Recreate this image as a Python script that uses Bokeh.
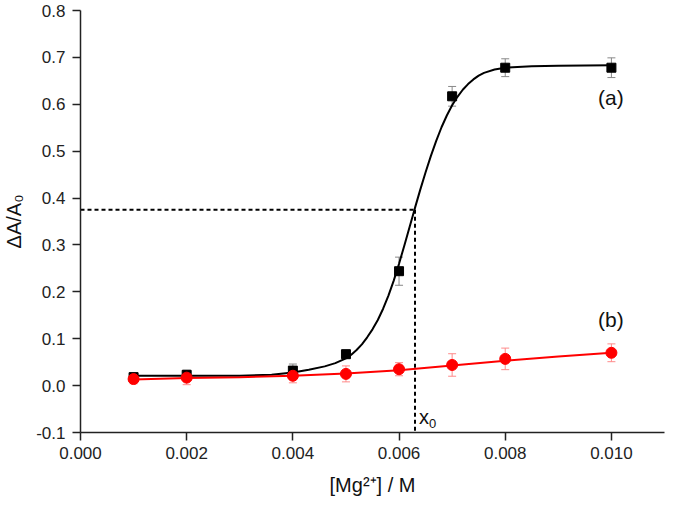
from bokeh.plotting import figure
from bokeh.models import ColumnDataSource, Whisker, TeeHead, FixedTicker, NumeralTickFormatter, Range1d
from bokeh.embed import file_html
from bokeh.resources import INLINE
from bokeh.core.properties import value

# ---- data ----
conc = [0.001, 0.002, 0.004, 0.005, 0.006, 0.007, 0.008, 0.010]
a_vals = [0.018, 0.023, 0.032, 0.067, 0.244, 0.617, 0.678, 0.678]
a_err = [0.010, 0.010, 0.014, 0.009, 0.030, 0.021, 0.019, 0.021]
b_vals = [0.014, 0.017, 0.021, 0.025, 0.035, 0.044, 0.057, 0.070]
b_err = [0.010, 0.015, 0.015, 0.017, 0.014, 0.024, 0.023, 0.019]

fit_a_x = [0.0010, 0.0020, 0.0030, 0.0036, 0.0040, 0.0043, 0.0046, 0.0048,
           0.0050, 0.0051, 0.0052, 0.0053, 0.0054, 0.0055, 0.0056, 0.0057,
           0.0058, 0.0059, 0.0060, 0.0061, 0.0062, 0.0063, 0.0064, 0.0065,
           0.0066, 0.0067, 0.0068, 0.0069, 0.0070, 0.0071, 0.0072, 0.0073,
           0.0074, 0.0075, 0.0076, 0.0078, 0.0080, 0.0085, 0.0090, 0.0100]
fit_a_y = [0.021, 0.021, 0.021, 0.023, 0.028, 0.034, 0.041, 0.048,
           0.058, 0.066, 0.076, 0.088, 0.103, 0.120, 0.140, 0.164,
           0.192, 0.224, 0.260, 0.299, 0.339, 0.379, 0.418, 0.455,
           0.490, 0.522, 0.551, 0.576, 0.598, 0.616, 0.631, 0.643,
           0.653, 0.661, 0.667, 0.674, 0.678, 0.681, 0.682, 0.683]
fit_b_x = [0.001, 0.002, 0.003, 0.004, 0.005, 0.006, 0.007, 0.008, 0.009, 0.010]
fit_b_y = [0.013, 0.016, 0.018, 0.021, 0.026, 0.033, 0.043, 0.053, 0.062, 0.070]

x0 = 0.0063
y_at_x0 = 0.375

x_ticks = [0.000, 0.002, 0.004, 0.006, 0.008, 0.010]
y_ticks = [-0.1, 0.0, 0.1, 0.2, 0.3, 0.4, 0.5, 0.6, 0.7, 0.8]

FONT = "Liberation Sans"

p = figure(width=665, height=503, output_backend="svg", toolbar_location=None,
           x_range=Range1d(0, 0.011), y_range=Range1d(-0.1, 0.8),
           min_border_left=78, min_border_right=1, min_border_top=10, min_border_bottom=71)
p.outline_line_color = None
p.xgrid.visible = False
p.ygrid.visible = False
p.background_fill_color = "white"
p.border_fill_color = "white"

for ax in (p.xaxis[0], p.yaxis[0]):
    ax.axis_line_width = 1.5
    ax.axis_line_color = "#222222"
    ax.major_tick_line_width = 1.5
    ax.major_tick_line_color = "#222222"
    ax.major_tick_out = 8
    ax.major_tick_in = 0
    ax.minor_tick_line_color = None
    ax.major_label_text_font = FONT
    ax.major_label_text_font_size = "17px"
    ax.major_label_text_color = "#222222"
    ax.axis_label_text_font = FONT
    ax.axis_label_text_font_size = "20px"
    ax.axis_label_text_font_style = "normal"
    ax.axis_label_text_color = "#111111"

p.xaxis[0].ticker = FixedTicker(ticks=x_ticks)
p.xaxis[0].formatter = NumeralTickFormatter(format="0.000")
p.yaxis[0].ticker = FixedTicker(ticks=y_ticks)
p.yaxis[0].formatter = NumeralTickFormatter(format="0.0")
p.xaxis[0].major_label_standoff = 6
p.yaxis[0].major_label_standoff = 7
p.xaxis[0].axis_label = "[Mg²⁺] / M"
p.yaxis[0].axis_label = "ΔA/A₀"
p.xaxis[0].axis_label_standoff = 12
p.yaxis[0].axis_label_standoff = 8

# dashed guide lines at x0
p.line([0, x0], [y_at_x0, y_at_x0], line_color="black", line_width=2, line_dash="4 3")
p.line([x0, x0], [y_at_x0, -0.1], line_color="black", line_width=2, line_dash="4 3")

# series (a)
src_a = ColumnDataSource(dict(x=conc, y=a_vals,
                              lo=[v - e for v, e in zip(a_vals, a_err)],
                              hi=[v + e for v, e in zip(a_vals, a_err)]))
p.line(fit_a_x, fit_a_y, line_color="black", line_width=2)
p.add_layout(Whisker(source=src_a, base="x", lower="lo", upper="hi",
                     line_color="#888888", line_width=1,
                     upper_head=TeeHead(size=8, line_color="#888888", line_width=1),
                     lower_head=TeeHead(size=8, line_color="#888888", line_width=1)))
p.scatter("x", "y", source=src_a, marker="square", size=9, fill_color="black", line_color="black")

# series (b)
src_b = ColumnDataSource(dict(x=conc, y=b_vals,
                              lo=[v - e for v, e in zip(b_vals, b_err)],
                              hi=[v + e for v, e in zip(b_vals, b_err)]))
p.line(fit_b_x, fit_b_y, line_color="red", line_width=2)
p.add_layout(Whisker(source=src_b, base="x", lower="lo", upper="hi",
                     line_color="#ff8a8a", line_width=1,
                     upper_head=TeeHead(size=8, line_color="#ff8a8a", line_width=1),
                     lower_head=TeeHead(size=8, line_color="#ff8a8a", line_width=1)))
p.scatter("x", "y", source=src_b, marker="circle", size=11, fill_color="red", line_color="red")

# annotations
p.text(x=[0.00999], y=[0.6137], text=["(a)"], text_font=value(FONT), text_font_size="21px",
       text_align="center", text_baseline="middle", text_color="#111111")
p.text(x=[0.00999], y=[0.141], text=["(b)"], text_font=value(FONT), text_font_size="21px",
       text_align="center", text_baseline="middle", text_color="#111111")
p.text(x=[x0], y=[-0.068], text=["x"], text_font=value(FONT), text_font_size="20px",
       text_align="left", text_baseline="alphabetic", text_color="#111111", x_offset=4)
p.text(x=[x0], y=[-0.068], text=["0"], text_font=value(FONT), text_font_size="13px",
       text_align="left", text_baseline="alphabetic", text_color="#111111", x_offset=14, y_offset=6)

open("out.html", "w").write(file_html(p, INLINE))
